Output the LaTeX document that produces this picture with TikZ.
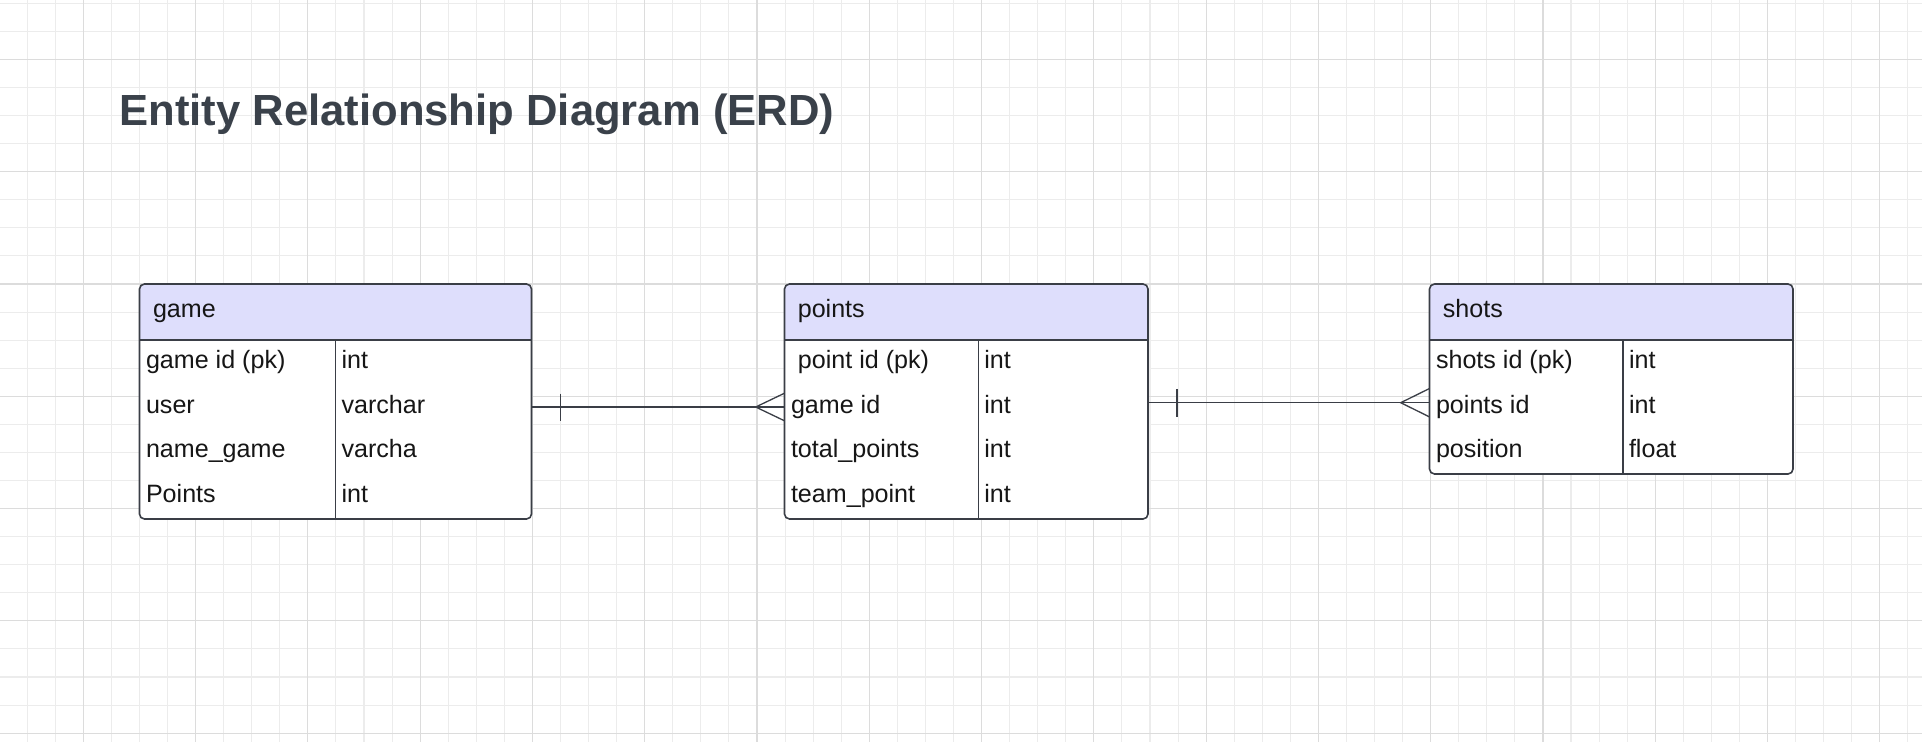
\documentclass[tikz,border=0pt]{standalone}
\usepackage{fontspec}
\setmainfont{Liberation Sans}
\usetikzlibrary{calc}
\definecolor{gridminor}{RGB}{236,236,236}
\definecolor{gridmajor}{RGB}{220,220,220}
\definecolor{titlecol}{RGB}{58,65,74}
\definecolor{hdr}{RGB}{222,222,252}
\definecolor{edgecol}{RGB}{58,62,70}
\definecolor{txt}{RGB}{22,22,22}
\begin{document}
\begin{tikzpicture}[x=1pt,y=-1pt,
  tblfill/.style={fill=white, anchor=north west, inner sep=0pt, outer sep=0pt, rounded corners=5pt},
  tblborder/.style={draw=edgecol, line width=1.6pt, rounded corners=5pt},
  sepline/.style={draw=edgecol, line width=1.6pt},
  divline/.style={draw=edgecol, line width=1.4pt},
  conn/.style={draw=edgecol, line width=1.3pt},
  cell/.style={anchor=base west, inner sep=0pt, outer sep=0pt, text=txt, font=\fontsize{25.1}{30}\selectfont},
  titlestyle/.style={anchor=base west, inner sep=0pt, outer sep=0pt, text=titlecol, font=\fontsize{43.6}{52}\selectfont\bfseries}]
\useasboundingbox (0,0) rectangle (1922,742);
\fill[white] (0,0) rectangle (1922,742);
% grid
\foreach \k in {0,...,69} {
  \pgfmathsetmacro\xx{-0.9+28.07*\k}
  \draw[gridminor, line width=1.1pt] (\xx,0) -- (\xx,742);
}
\foreach \k in {0,...,26} {
  \pgfmathsetmacro\yy{3.3+28.07*\k}
  \draw[gridminor, line width=1.1pt] (0,\yy) -- (1922,\yy);
}
\foreach \k in {0,...,16} {
  \pgfmathsetmacro\xx{83.3+112.28*\k}
  \draw[gridmajor, line width=1.2pt] (\xx,0) -- (\xx,742);
}
\foreach \k in {0,...,6} {
  \pgfmathsetmacro\yy{59.44+112.28*\k}
  \draw[gridmajor, line width=1.2pt] (0,\yy) -- (1922,\yy);
}
% title
\node[titlestyle] (title) at (119.5,125) {Entity Relationship Diagram (ERD)};
% ---------- game ----------
\node[tblfill, minimum width=392pt, minimum height=235pt] (game) at (139.5,284) {};
\fill[hdr, rounded corners=5pt] (game.west |- 0,340) -- (game.north west) -- (game.north east) -- (game.east |- 0,340);
\draw[sepline] (game.west |- 0,340) -- (game.east |- 0,340);
\draw[divline] (335.5,340) -- (335.5,519);
\draw[tblborder] (game.north west) rectangle (game.south east);
\node[cell] (game-h) at (153,317) {game};
\node[cell] (game-a1) at (146,368.5) {game id (pk)};
\node[cell] (game-b1) at (341.5,368.5) {int};
\node[cell] (game-a2) at (146,413) {user};
\node[cell] (game-b2) at (341.5,413) {varchar};
\node[cell] (game-a3) at (146,457.5) {name\_game};
\node[cell] (game-b3) at (341.5,457.5) {varcha};
\node[cell] (game-a4) at (146,502) {Points};
\node[cell] (game-b4) at (341.5,502) {int};
% ---------- points ----------
\node[tblfill, minimum width=363.5pt, minimum height=235pt] (points) at (784.5,284) {};
\fill[hdr, rounded corners=5pt] (points.west |- 0,340) -- (points.north west) -- (points.north east) -- (points.east |- 0,340);
\draw[sepline] (points.west |- 0,340) -- (points.east |- 0,340);
\draw[divline] (978.3,340) -- (978.3,519);
\draw[tblborder] (points.north west) rectangle (points.south east);
\node[cell] (points-h) at (797.8,317) {points};
\node[cell] (points-a1) at (791,368.5) {\ point id (pk)};
\node[cell] (points-b1) at (984.3,368.5) {int};
\node[cell] (points-a2) at (791,413) {game id};
\node[cell] (points-b2) at (984.3,413) {int};
\node[cell] (points-a3) at (791,457.5) {total\_points};
\node[cell] (points-b3) at (984.3,457.5) {int};
\node[cell] (points-a4) at (791,502) {team\_point};
\node[cell] (points-b4) at (984.3,502) {int};
% ---------- shots ----------
\node[tblfill, minimum width=363.5pt, minimum height=190pt] (shots) at (1429.5,284) {};
\fill[hdr, rounded corners=5pt] (shots.west |- 0,340) -- (shots.north west) -- (shots.north east) -- (shots.east |- 0,340);
\draw[sepline] (shots.west |- 0,340) -- (shots.east |- 0,340);
\draw[divline] (1623,340) -- (1623,474);
\draw[tblborder] (shots.north west) rectangle (shots.south east);
\node[cell] (shots-h) at (1442.8,317) {shots};
\node[cell] (shots-a1) at (1436,368.5) {shots id (pk)};
\node[cell] (shots-b1) at (1629,368.5) {int};
\node[cell] (shots-a2) at (1436,413) {points id};
\node[cell] (shots-b2) at (1629,413) {int};
\node[cell] (shots-a3) at (1436,457.5) {position};
\node[cell] (shots-b3) at (1629,457.5) {float};
% ---------- connectors ----------
\coordinate (c1a) at ($(game.north east)+(0,123)$);
\coordinate (c1b) at ($(points.north west)+(0,123)$);
\draw[conn] (c1a) -- (c1b);
\draw[conn] ($(c1a)+(29.2,-13.5)$) -- ($(c1a)+(29.2,13.5)$);
\draw[conn] ($(c1b)+(0,-13.8)$) -- ($(c1b)+(-28.8,0)$) -- ($(c1b)+(0,13.8)$);
\coordinate (c2a) at ($(points.north east)+(0,118.7)$);
\coordinate (c2b) at ($(shots.north west)+(0,118.7)$);
\draw[conn] (c2a) -- (c2b);
\draw[conn] ($(c2a)+(29,-13.8)$) -- ($(c2a)+(29,13.8)$);
\draw[conn] ($(c2b)+(0,-14.2)$) -- ($(c2b)+(-28.8,0)$) -- ($(c2b)+(0,14.2)$);
\end{tikzpicture}
\end{document}
